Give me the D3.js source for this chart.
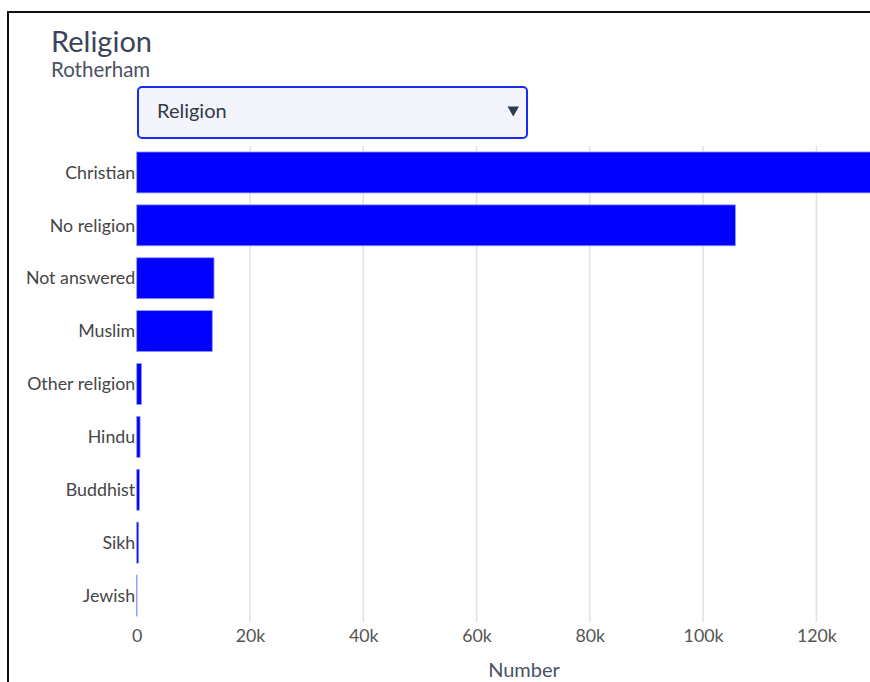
<!DOCTYPE html>
<html>
<head>
<meta charset="utf-8">
<script src="https://cdn.jsdelivr.net/npm/d3@7"></script>
<style>
  html, body { margin: 0; padding: 0; background: #fff; overflow: hidden; }
  svg { display: block; }
  text { font-family: Lato, "Open Sans", sans-serif; }
</style>
</head>
<body>
<svg id="chart" width="870" height="682"></svg>
<script>
const title = "Religion";
const subtitle = "Rotherham";
const dropdownLabel = "Religion";
const categories = ["Christian", "No religion", "Not answered", "Muslim", "Other religion", "Hindu", "Buddhist", "Sikh", "Jewish"];
const values = [133000, 105700, 13650, 13350, 850, 600, 480, 350, 60];
const tickValues = [0, 20000, 40000, 60000, 80000, 100000, 120000];
const xLabel = "Number";

const svg = d3.select("#chart");

// frame
svg.append("rect").attr("x", 8).attr("y", 12).attr("width", 900).attr("height", 700)
  .attr("fill", "none").attr("stroke", "#111").attr("stroke-width", 2);

svg.append("text").attr("x", 51).attr("y", 52).attr("font-size", 29)
  .attr("fill", "#3b4459").text(title);
svg.append("text").attr("x", 51).attr("y", 77).attr("font-size", 20.5)
  .attr("fill", "#4a5263").text(subtitle);

// dropdown
const dd = svg.append("g");
dd.append("rect").attr("x", 138).attr("y", 87).attr("width", 389).attr("height", 51)
  .attr("rx", 4).attr("fill", "#f3f4fc").attr("stroke", "#1a2bf0").attr("stroke-width", 2);
dd.append("text").attr("x", 157).attr("y", 118).attr("font-size", 20)
  .attr("fill", "#333a45").text(dropdownLabel);
dd.append("path").attr("d", "M507.5,106.5 L519,106.5 L513.25,116.5 Z").attr("fill", "#2c3b52");

const x0 = 136.7;
const x = d3.scaleLinear().domain([0, 140000]).range([x0, x0 + 140 * 5.664]);
const y = d3.scaleBand().domain(categories).range([146, 622]).paddingInner(0.226).paddingOuter(0.113);

// gridlines
svg.append("g").selectAll("line").data(tickValues.filter(d => d > 0)).join("line")
  .attr("x1", d => x(d)).attr("x2", d => x(d)).attr("y1", 146).attr("y2", 622)
  .attr("stroke", "#e1e1e1").attr("stroke-width", 1.5);

// bars
svg.append("g").selectAll("rect").data(categories).join("rect")
  .attr("x", x(0)).attr("y", (d) => y(d))
  .attr("width", (d, i) => x(values[i]) - x(0))
  .attr("height", y.bandwidth())
  .attr("fill", "#0000ff").attr("stroke", "#8f9af5").attr("stroke-width", 0.8);

// y labels
svg.append("g").selectAll("text").data(categories).join("text")
  .attr("x", x0 - 1.5).attr("y", d => y(d) + y.bandwidth() / 2).attr("dy", "0.35em")
  .attr("text-anchor", "end").attr("font-size", 17.8).attr("fill", "#454545").text(d => d);

// x axis
const fmt = d => d === 0 ? "0" : d3.format("~s")(d);
const xAxis = d3.axisBottom(x).tickValues(tickValues).tickFormat(fmt).tickSize(0).tickPadding(0);
const ax = svg.append("g").attr("transform", "translate(0,629)").call(xAxis);
ax.select(".domain").remove();
ax.selectAll("text").attr("font-size", 17.8).attr("fill", "#555").attr("font-family", "Lato, sans-serif").attr("dy", "0.71em");

svg.append("text").attr("x", 524).attr("y", 677).attr("text-anchor", "middle")
  .attr("font-size", 20).attr("fill", "#4a5263").text(xLabel);
</script>
</body>
</html>
